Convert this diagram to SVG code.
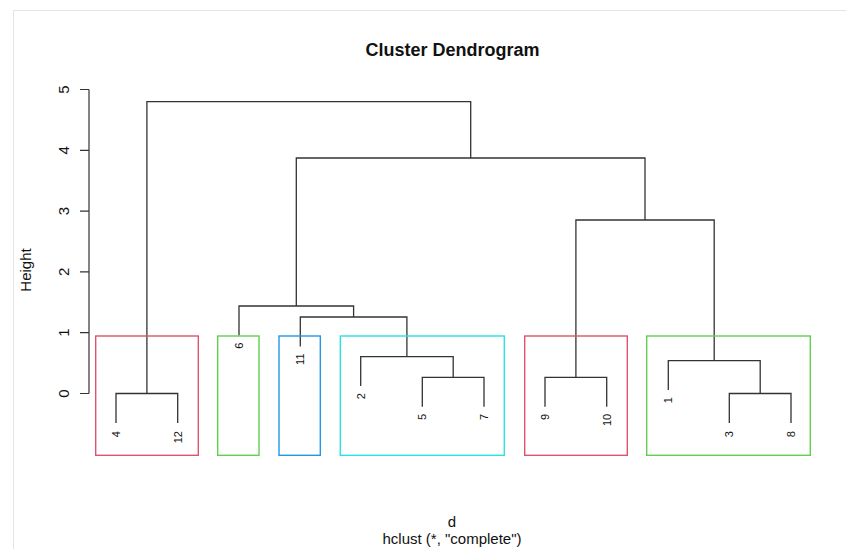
<svg xmlns="http://www.w3.org/2000/svg" width="846" height="549" viewBox="0 0 846 549">
  <style>
    .frame { fill: none; stroke: #e4e4e4; stroke-width: 1; }
    .axis { fill: none; stroke: #333; stroke-width: 1.2; }
    .link { fill: none; stroke: #333; stroke-width: 1.3; }
    .box { fill: none; stroke-width: 1.4; }
    .title { font-family: "Liberation Sans", Arial, sans-serif; font-size: 18px; font-weight: bold; fill: #111; text-anchor: middle; }
    .lab { font-family: "Liberation Sans", Arial, sans-serif; font-size: 15px; fill: #111; text-anchor: middle; }
    .tick { font-family: "Liberation Sans", Arial, sans-serif; font-size: 15px; fill: #111; text-anchor: middle; }
    .leaf { font-family: "Liberation Sans", Arial, sans-serif; font-size: 11px; fill: #111; text-anchor: end; }
  </style>
  <rect x="0" y="0" width="846" height="549" fill="#ffffff"/>
  <!-- window frame -->
  <path class="frame" d="M13.5 549 V10.5 H846"/>

  <text class="title" x="452.5" y="56">Cluster Dendrogram</text>

  <!-- y axis -->
  <g id="y-axis">
    <path class="axis" d="M89 89.5 V393.5 M80 89.5 H89 M80 150.3 H89 M80 211.1 H89 M80 271.9 H89 M80 332.7 H89 M80 393.5 H89"/>
    <text class="tick" transform="translate(68.5,89.5) rotate(-90)">5</text>
    <text class="tick" transform="translate(68.5,150.3) rotate(-90)">4</text>
    <text class="tick" transform="translate(68.5,211.1) rotate(-90)">3</text>
    <text class="tick" transform="translate(68.5,271.9) rotate(-90)">2</text>
    <text class="tick" transform="translate(68.5,332.7) rotate(-90)">1</text>
    <text class="tick" transform="translate(68.5,393.5) rotate(-90)">0</text>
    <text class="lab" transform="translate(30.5,270) rotate(-90)">Height</text>
  </g>

  <!-- dendrogram branches -->
  <g id="connectors">
    <path class="link" d="M146.9 393.5 V101.6 H470.7 V158"/>
    <path class="link" d="M296.3 306 V158 H645 V220"/>
    <path class="link" d="M575.9 377.3 V220 H714.2 V360.7"/>
    <path class="link" d="M239 335.4 V306 H353.6 V317"/>
    <path class="link" d="M300.3 346.4 V317 H406.9 V356.7"/>
    <path class="link" d="M360.7 386 V356.7 H453.2 V377.3"/>
    <path class="link" d="M422.3 406.7 V377.3 H484 V406.7"/>
    <path class="link" d="M545 406.7 V377.3 H606.7 V406.7"/>
    <path class="link" d="M668.3 390 V360.7 H760.2 V393.5"/>
    <path class="link" d="M729.3 423 V393.5 H791 V423"/>
    <path class="link" d="M116 423 V393.5 H177.7 V423"/>
  </g>

  <!-- leaves -->
  <g id="leaf-4"><text class="leaf" transform="translate(120,431) rotate(-90)">4</text></g>
  <g id="leaf-12"><text class="leaf" transform="translate(181.7,431) rotate(-90)">12</text></g>
  <g id="leaf-6"><text class="leaf" transform="translate(243,342.5) rotate(-90)">6</text></g>
  <g id="leaf-11"><text class="leaf" transform="translate(304.3,353.5) rotate(-90)">11</text></g>
  <g id="leaf-2"><text class="leaf" transform="translate(364.7,393) rotate(-90)">2</text></g>
  <g id="leaf-5"><text class="leaf" transform="translate(426.3,413.8) rotate(-90)">5</text></g>
  <g id="leaf-7"><text class="leaf" transform="translate(488,413.8) rotate(-90)">7</text></g>
  <g id="leaf-9"><text class="leaf" transform="translate(549,413.8) rotate(-90)">9</text></g>
  <g id="leaf-10"><text class="leaf" transform="translate(610.7,413.8) rotate(-90)">10</text></g>
  <g id="leaf-1"><text class="leaf" transform="translate(672.3,397) rotate(-90)">1</text></g>
  <g id="leaf-3"><text class="leaf" transform="translate(733.3,431) rotate(-90)">3</text></g>
  <g id="leaf-8"><text class="leaf" transform="translate(795,431) rotate(-90)">8</text></g>

  <!-- cluster boxes -->
  <g id="clusters">
    <rect class="box" x="95.7" y="336" width="102.6" height="119.3" stroke="#DF536B"/>
    <rect class="box" x="217.7" y="336" width="41.3" height="119.3" stroke="#61D04F"/>
    <rect class="box" x="279" y="336" width="41.3" height="119.3" stroke="#2297E6"/>
    <rect class="box" x="340.3" y="336" width="164" height="119.3" stroke="#28E2E5"/>
    <rect class="box" x="524.7" y="336" width="102.6" height="119.3" stroke="#DF536B"/>
    <rect class="box" x="646.7" y="336" width="163.6" height="119.3" stroke="#61D04F"/>
  </g>

  <text class="lab" x="452" y="527">d</text>
  <text class="lab" x="452" y="544">hclust (*, "complete")</text>
</svg>
